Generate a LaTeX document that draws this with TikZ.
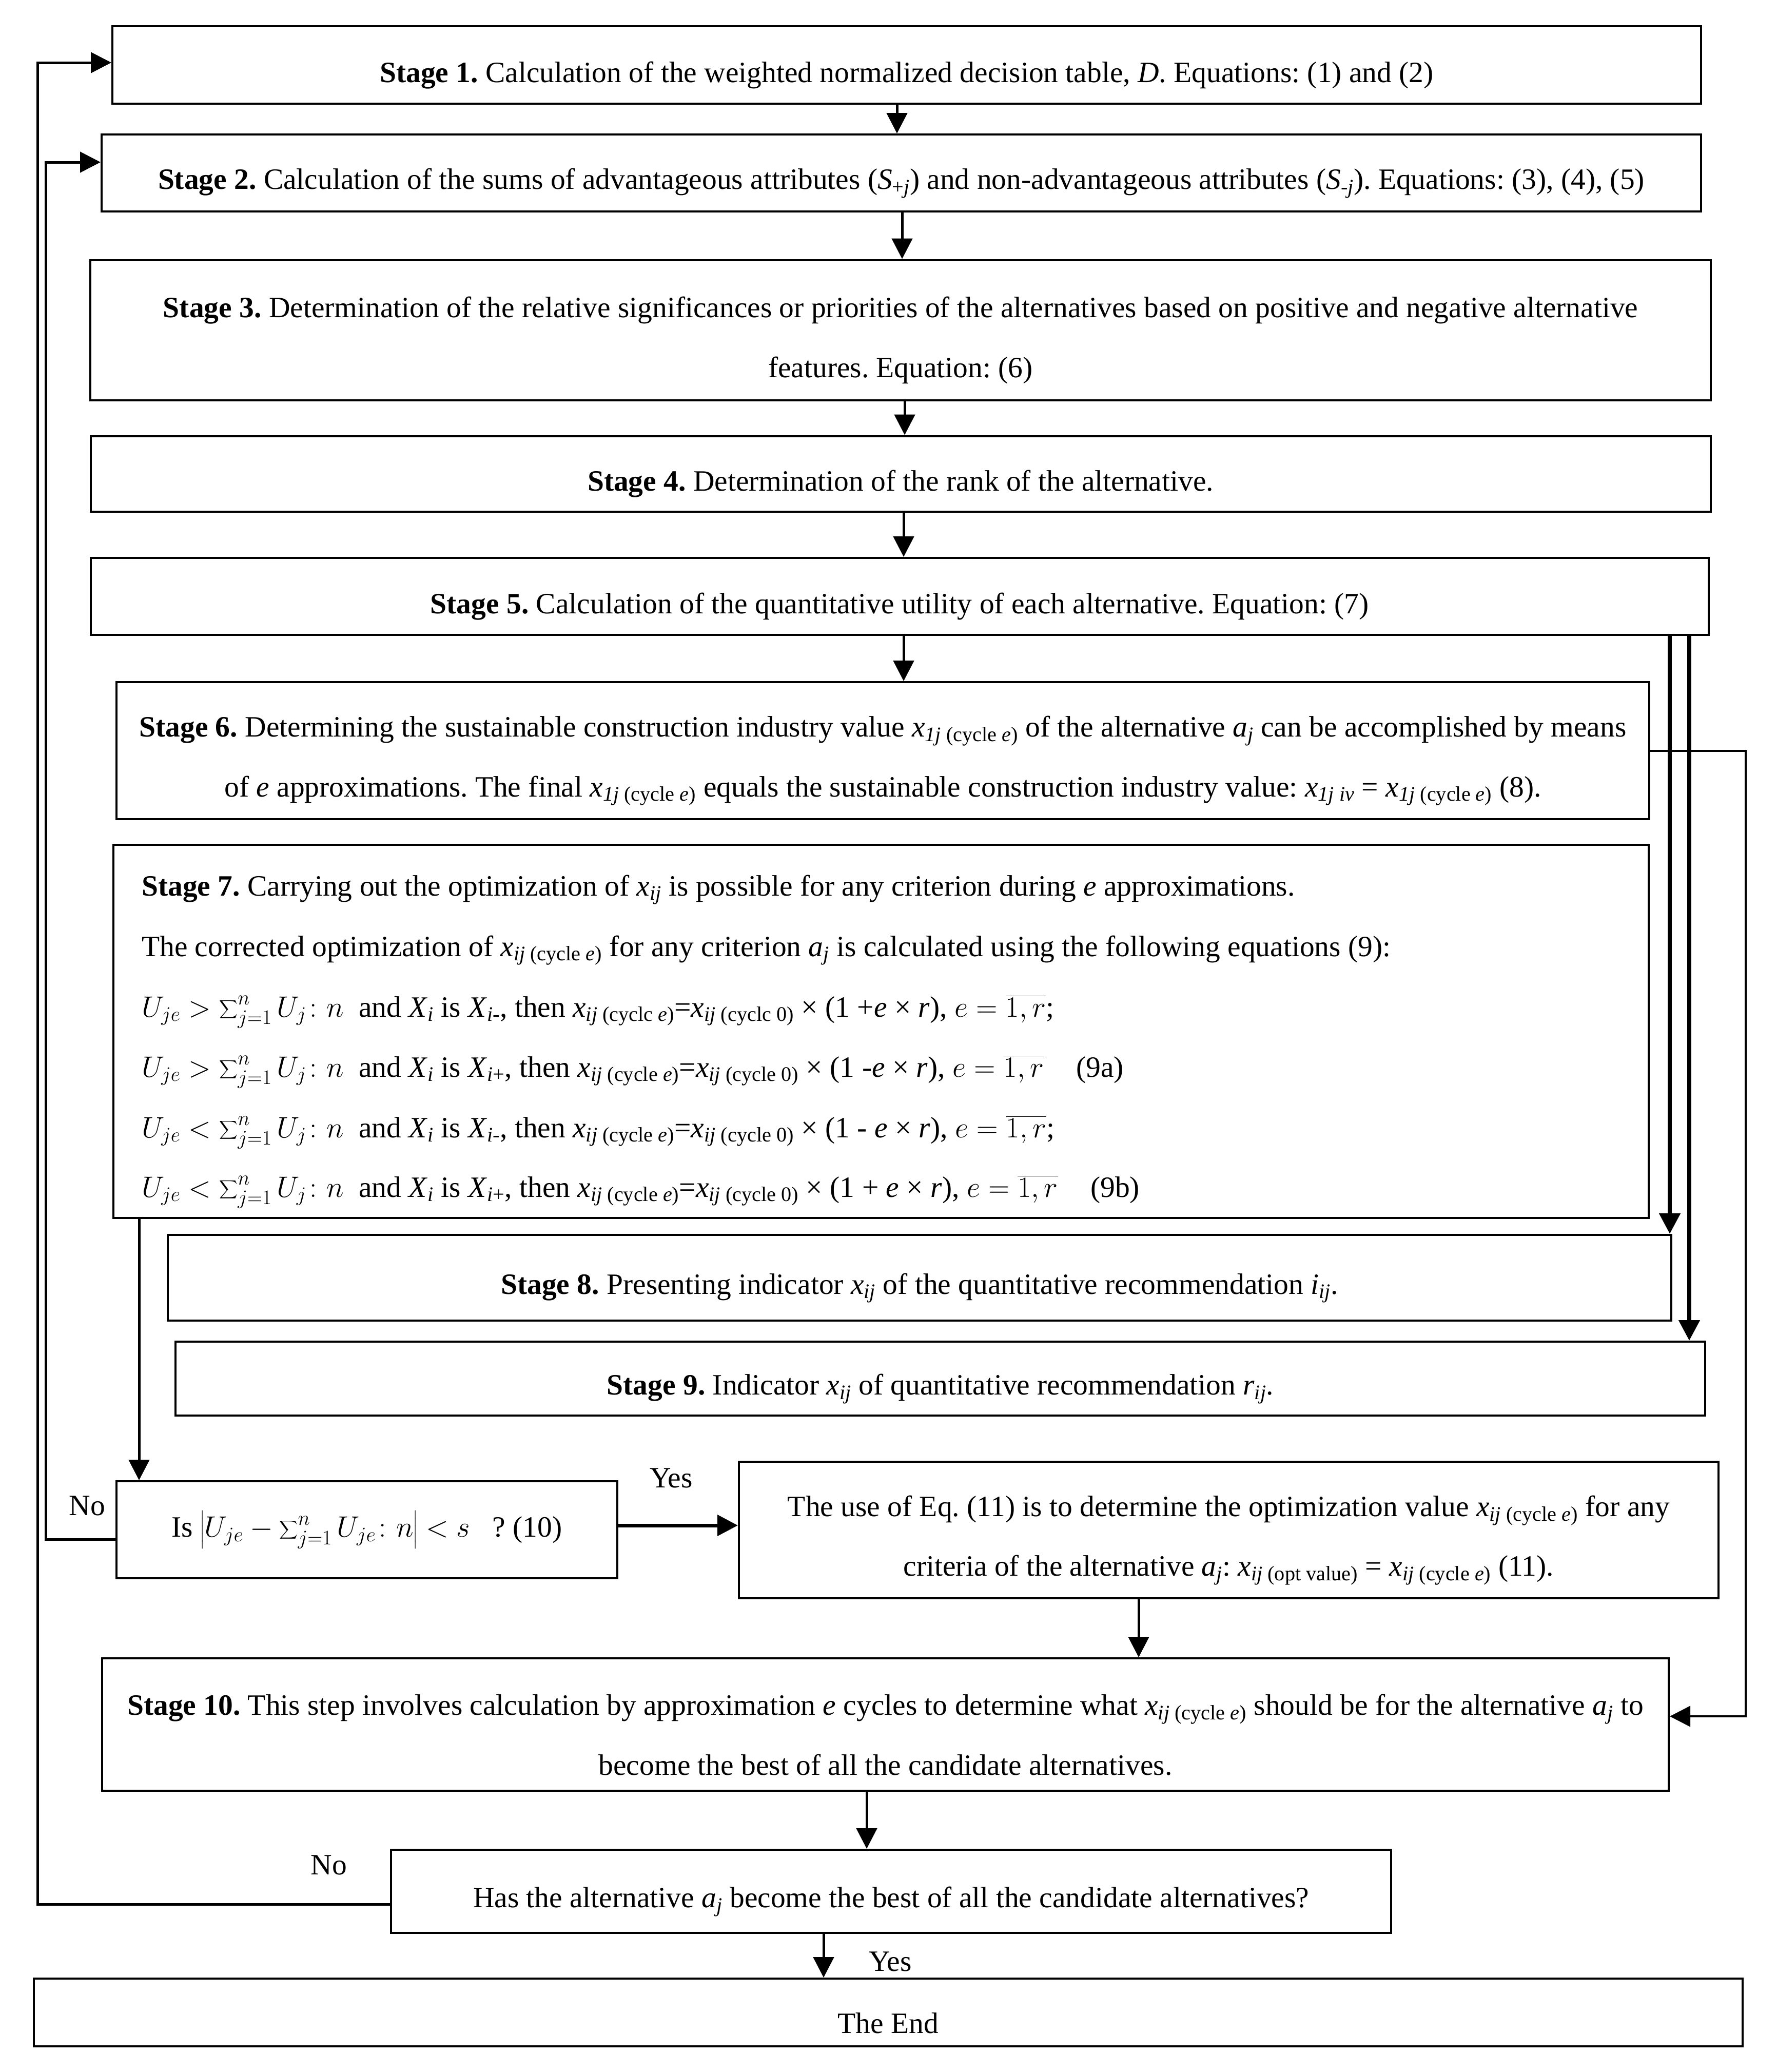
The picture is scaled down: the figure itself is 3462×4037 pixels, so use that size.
\RequirePackage{fix-cm}
\documentclass[tikz,border=0pt]{standalone}
\usepackage{amsmath}
\usepackage{fontspec}
\setmainfont{Liberation Serif}
\usetikzlibrary{arrows.meta}
\frenchspacing
\newcommand\xsub[1]{\textit{x}\textsubscript{#1}}
\newcommand\cyce{(cycle \textit{e})}
\newcommand\ajsub{\textit{a}\textsubscript{\textit{j}}}
\newcommand\dnstrut{\rule{0pt}{1.4em}}
\newcommand\bsum{\displaystyle\sum\nolimits}
\tikzset{
  box/.style={draw, line width=4pt, inner sep=0pt, align=center},
  arr/.style={-{Triangle[length=40pt,width=40pt]}},
  con/.style={line width=5pt, line join=miter},
  lbl/.style={inner sep=0pt},
  eqline/.style={inner sep=0pt, anchor=base west}
}
\begin{document}
\begin{tikzpicture}[x=1pt,y=-1pt,font=\fontsize{57.5}{116.5}\selectfont]
\useasboundingbox (0,0) rectangle (3462,4037);
% boxes
\node[box, minimum width=3096pt, minimum height=151pt] (s1) at (1767,126.5)
 {\dnstrut\textbf{Stage 1.} Calculation of the weighted normalized decision table, \textit{D}. Equations: (1) and (2)};
\node[box, minimum width=3117pt, minimum height=150pt] (s2) at (1756.5,337)
 {\dnstrut\textbf{Stage 2.} Calculation of the sums of advantageous attributes (\textit{S}\textsubscript{+\textit{j}}) and non-advantageous attributes (\textit{S}\textsubscript{-\textit{j}}). Equations: (3), (4), (5)};
\node[box, minimum width=3158pt, minimum height=273pt] (s3) at (1755,643)
 {\dnstrut\textbf{Stage 3.} Determination of the relative significances or priorities of the alternatives based on positive and negative alternative\\features. Equation: (6)};
\node[box, minimum width=3157pt, minimum height=147pt] (s4) at (1755,923)
 {\dnstrut\textbf{Stage 4.} Determination of the rank of the alternative.};
\node[box, minimum width=3153pt, minimum height=150pt] (s5) at (1753,1162)
 {\dnstrut\textbf{Stage 5.} Calculation of the quantitative utility of each alternative. Equation: (7)};
\node[box, minimum width=2987pt, minimum height=267pt] (s6) at (1720.5,1462.5)
 {\dnstrut\textbf{Stage 6.} Determining the sustainable construction industry value \xsub{\textit{1j} \cyce} of the alternative \ajsub{} can be accomplished by means\\of \textit{e} approximations. The final \xsub{\textit{1j} \cyce} equals the sustainable construction industry value: \xsub{\textit{1j iv}} = \xsub{\textit{1j} \cyce} (8).};
\node[box, minimum width=2992pt, minimum height=727pt] (s7) at (1717,2009.5) {};
\node[eqline] (s7a) at (276,1745)
 {\textbf{Stage 7.} Carrying out the optimization of \xsub{\textit{ij}} is possible for any criterion during \textit{e} approximations.};
\node[eqline] (s7b) at (276,1863)
 {The corrected optimization of \xsub{\textit{ij} \cyce} for any criterion \ajsub{} is calculated using the following equations (9):};
\node[eqline] (s7c) at (276,1981)
 {$U_{je} > \bsum_{j=1}^{n} U_j\colon n$\ \ and \textit{X}\textsubscript{\textit{i}} is \textit{X}\textsubscript{\textit{i}-}, then \xsub{\textit{ij} (cyclc \textit{e})}=\xsub{\textit{ij} (cyclc 0)} × (1 +\textit{e} × \textit{r}), $e = \overline{1,r}$;};
\node[eqline] (s7d) at (276,2098)
 {$U_{je} > \bsum_{j=1}^{n} U_j\colon n$\ \ and \textit{X}\textsubscript{\textit{i}} is \textit{X}\textsubscript{\textit{i}+}, then \xsub{\textit{ij} \cyce}=\xsub{\textit{ij} (cycle 0)} × (1 -\textit{e} × \textit{r}), $e = \overline{1,r}$\hspace{1.1em}(9a)};
\node[eqline] (s7e) at (276,2216)
 {$U_{je} < \bsum_{j=1}^{n} U_j\colon n$\ \ and \textit{X}\textsubscript{\textit{i}} is \textit{X}\textsubscript{\textit{i}-}, then \xsub{\textit{ij} \cyce}=\xsub{\textit{ij} (cycle 0)} × (1 - \textit{e} × \textit{r}), $e = \overline{1,r}$;};
\node[eqline] (s7f) at (276,2332)
 {$U_{je} < \bsum_{j=1}^{n} U_j\colon n$\ \ and \textit{X}\textsubscript{\textit{i}} is \textit{X}\textsubscript{\textit{i}+}, then \xsub{\textit{ij} \cyce}=\xsub{\textit{ij} (cycle 0)} × (1 + \textit{e} × \textit{r}), $e = \overline{1,r}$\hspace{1.1em}(9b)};
\node[box, minimum width=2930pt, minimum height=167pt] (s8) at (1792,2489.5)
 {\dnstrut\textbf{Stage 8.} Presenting indicator \xsub{\textit{ij}} of the quantitative recommendation \textit{i}\textsubscript{\textit{ij}}.};
\node[box, minimum width=2981pt, minimum height=144pt] (s9) at (1832.5,2686)
 {\dnstrut\textbf{Stage 9.} Indicator \xsub{\textit{ij}} of quantitative recommendation \textit{r}\textsubscript{\textit{ij}}.};
\node[box, minimum width=976pt, minimum height=189pt] (dec) at (715,2980.5)
 {Is $\left|U_{je} - \bsum_{j=1}^{n} U_{je}\colon n\right| < s$\ \ \ ? (10)};
\node[box, minimum width=1909pt, minimum height=266pt] (e11) at (2394.5,2981)
 {\dnstrut The use of Eq. (11) is to determine the optimization value \xsub{\textit{ij} \cyce} for any\\criteria of the alternative \ajsub: \xsub{\textit{ij} (opt value)} = \xsub{\textit{ij} \cyce} (11).};
\node[box, minimum width=3053pt, minimum height=258pt] (s10) at (1725.5,3360)
 {\dnstrut\textbf{Stage 10.} This step involves calculation by approximation \textit{e} cycles to determine what \xsub{\textit{ij} \cyce} should be for the alternative \ajsub{} to\\become the best of all the candidate alternatives.};
\node[box, minimum width=1949pt, minimum height=162pt] (has) at (1736.5,3685)
 {\dnstrut Has the alternative \ajsub{} become the best of all the candidate alternatives?};
\node[box, minimum width=3330pt, minimum height=132pt] (end) at (1731,3921)
 {\dnstrut The End};
% labels
\node[lbl] (yes1) at (1308,2880) {Yes};
\node[lbl] (no1) at (170,2934) {No};
\node[lbl] (no2) at (641,3634) {No};
\node[lbl] (yes2) at (1735,3822) {Yes};
% helper coordinates
\coordinate (c12) at (1748,0);
\coordinate (c23) at (1758,0);
\coordinate (c34) at (1763,0);
\coordinate (c45) at (1761,0);
\coordinate (c56) at (1761,0);
\coordinate (r1) at (3254,0);
\coordinate (r2) at (3292,0);
\coordinate (c7d) at (271,0);
\coordinate (yy) at (0,2972);
\coordinate (c1110) at (2219,0);
\coordinate (c10h) at (1689,0);
\coordinate (che) at (1605,0);
\coordinate (lp1) at (3402,1462.5);
\coordinate (lp2) at (3402,3344);
\coordinate (fa) at (73,3710);
\coordinate (fat) at (73,122);
\coordinate (fb) at (89,2999);
\coordinate (fbt) at (89,316);
% connectors
\draw[con,arr] (s1.south -| c12) -- (s2.north -| c12);
\draw[con,arr] (s2.south -| c23) -- (s3.north -| c23);
\draw[con,arr] (s3.south -| c34) -- (s4.north -| c34);
\draw[con,arr] (s4.south -| c45) -- (s5.north -| c45);
\draw[con,arr] (s5.south -| c56) -- (s6.north -| c56);
\draw[con,arr,line width=8pt] (s5.south -| r1) -- (s8.north -| r1);
\draw[con,arr,line width=8pt] (s5.south -| r2) -- (s9.north -| r2);
\draw[con,arr,line width=4pt] (s6.east) -- (lp1) -- (lp2) -- (s10.east |- lp2);
\draw[con,arr] (s7.south -| c7d) -- (dec.north -| c7d);
\draw[con,arr,line width=7pt] (dec.east |- yy) -- (e11.west |- yy);
\draw[con,arr] (e11.south -| c1110) -- (s10.north -| c1110);
\draw[con,arr] (s10.south -| c10h) -- (has.north -| c10h);
\draw[con,arr] (has.south -| che) -- (end.north -| che);
\draw[con,arr] (has.west |- fa) -- (fa) -- (fat) -- (s1.west |- fat);
\draw[con,arr] (dec.west |- fb) -- (fb) -- (fbt) -- (s2.west |- fbt);
\end{tikzpicture}
\end{document}
